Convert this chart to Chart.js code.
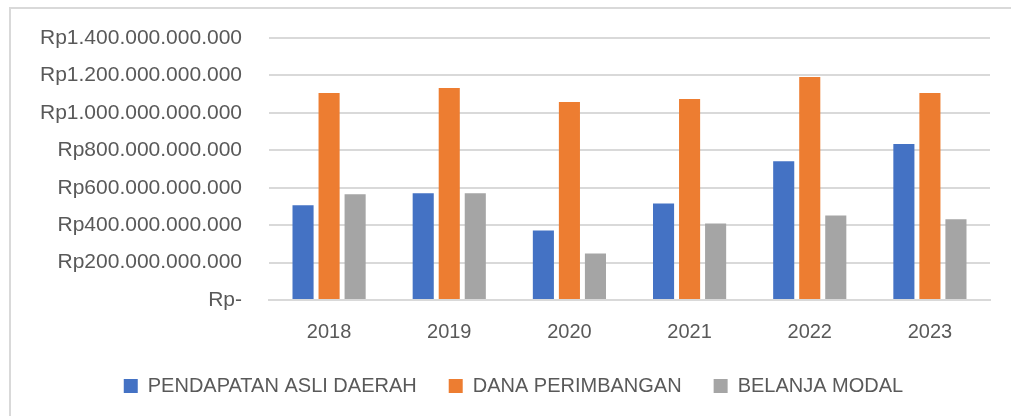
<!DOCTYPE html>
<html>
<head>
<meta charset="utf-8">
<script src="https://cdn.jsdelivr.net/npm/chart.js@4.4.0/dist/chart.umd.min.js"></script>
<style>
    html, body { margin: 0; padding: 0; background: #ffffff; overflow: hidden; }
    #wrap {
        position: absolute;
        left: 9px; top: 7px;
        width: 1002px; height: 409px;
        border-left: 2px solid #d9d9d9;
        border-top: 2px solid #d9d9d9;
        box-sizing: border-box;
    }
    #chart { display: block; }
</style>
</head>
<body>
<div id="wrap"><canvas id="chart" width="1000" height="407"></canvas></div>
<script>
// years on the x axis
const years = ['2018', '2019', '2020', '2021', '2022', '2023'];

// values in rupiah
const pendapatanAsliDaerah = [506e9, 570e9, 372e9, 516e9, 742e9, 833e9];
const danaPerimbangan = [1106e9, 1133e9, 1058e9, 1074e9, 1192e9, 1106e9];
const belanjaModal = [565e9, 570e9, 248e9, 409e9, 452e9, 431e9];

const seriesNames = ['PENDAPATAN ASLI DAERAH', 'DANA PERIMBANGAN', 'BELANJA MODAL'];

// y axis: 0 .. 1.4 T, every 200 B
const yMax = 1400e9;
const yStep = 200e9;

const textColor = '#595959';
const gridColor = '#d9d9d9';
const font = "'Liberation Sans', Arial, sans-serif";

function rupiah(v) {
    if (v === 0) return 'Rp-';
    return 'Rp' + Math.round(v).toString().replace(/\B(?=(\d{3})+(?!\d))/g, '.');
}

const ctx = document.getElementById('chart');

new Chart(ctx, {
    type: 'bar',
    data: {
        labels: years,
        datasets: [
            { label: seriesNames[0], data: pendapatanAsliDaerah, backgroundColor: '#4472c4' },
            { label: seriesNames[1], data: danaPerimbangan, backgroundColor: '#ed7d31' },
            { label: seriesNames[2], data: belanjaModal, backgroundColor: '#a5a5a5' }
        ]
    },
    options: {
        responsive: false,
        animation: false,
        devicePixelRatio: 1,
        categoryPercentage: 0.65,
        barPercentage: 0.81,
        layout: { padding: { top: 29, right: 21, bottom: 10, left: 26 } },
        plugins: {
            legend: {
                position: 'bottom',
                maxHeight: 73,
                labels: {
                    color: textColor,
                    boxWidth: 14,
                    boxHeight: 14,
                    padding: 32,
                    font: { family: font, size: 20 }
                }
            },
            tooltip: { enabled: false }
        },
        scales: {
            x: {
                grid: { display: false, drawTicks: false },
                border: { color: gridColor, width: 2 },
                ticks: {
                    color: textColor,
                    padding: 20,
                    font: { family: font, size: 20 }
                },
                afterFit: (scale) => { scale.height = 44; }
            },
            y: {
                min: 0,
                max: yMax,
                // invisible tick marks keep the labels away from the plot
                grid: { color: gridColor, lineWidth: 2, tickLength: 27, tickColor: 'rgba(0,0,0,0)' },
                border: { display: false },
                ticks: {
                    stepSize: yStep,
                    color: textColor,
                    padding: 0,
                    font: { family: font, size: 21 },
                    callback: (v) => rupiah(v)
                },
                afterFit: (scale) => { scale.width = 232; }
            }
        }
    }
});
</script>
</body>
</html>
